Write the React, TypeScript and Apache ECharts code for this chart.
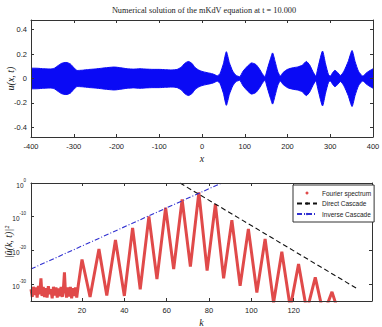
import React, { useEffect, useRef } from 'react';
import * as echarts from 'echarts';

// ---- Top panel: envelope of u(x,t) (the blue band spans -env..+env)
const xPos = [-400, -385, -370, -355, -345, -337, -328, -318, -308, -300, -292, -280, -265, -250, -235, -220, -205, -190, -175, -160, -145, -130, -115, -100, -85, -70, -58, -48, -40, -32, -24, -16, -8, 0, 12, 25, 36, 42, 50, 57, 64, 72, 80, 88, 96, 106, 116, 126, 134, 141, 147, 153, 160, 165, 171, 177, 183, 190, 200, 212, 224, 235, 244, 252, 259, 266, 272, 282, 289, 296, 300, 306, 311, 317, 324, 332, 342, 351, 358, 366, 376, 386, 395, 400];
const envelope = [0.085, 0.084, 0.08, 0.078, 0.085, 0.105, 0.125, 0.132, 0.12, 0.09, 0.066, 0.068, 0.074, 0.078, 0.084, 0.09, 0.094, 0.088, 0.08, 0.077, 0.08, 0.077, 0.075, 0.075, 0.072, 0.07, 0.075, 0.095, 0.125, 0.14, 0.125, 0.09, 0.07, 0.058, 0.048, 0.038, 0.022, 0.04, 0.12, 0.22, 0.13, 0.06, 0.025, 0.015, 0.06, 0.1, 0.128, 0.115, 0.08, 0.04, 0.015, 0.08, 0.16, 0.21, 0.14, 0.06, 0.02, 0.05, 0.075, 0.088, 0.095, 0.11, 0.14, 0.11, 0.06, 0.02, 0.1, 0.225, 0.12, 0.03, 0.02, 0.05, 0.068, 0.05, 0.025, 0.06, 0.14, 0.23, 0.14, 0.06, 0.02, 0.05, 0.07, 0.08];

// ---- Bottom panel: Fourier spectrum, log10 |u^(k,t)|^2
const specK = [-4.1, -3.5, -3, -2.4, -1.8, -1.2, -0.6, 0, 0.6, 1.1, 1.7, 2.3, 2.9, 3.5, 4.1, 4.7, 5.3, 5.9, 6.5, 7.1, 7.7, 8.3, 8.9, 9.5, 10.1, 10.7, 11.3, 11.7, 12.1, 12.7, 13.3, 13.9, 14.5, 15.1, 15.7, 16.3, 16.9, 17.5, 18.2, 20, 23.8, 28, 31.7, 35.8, 40, 43.9, 47.5, 51.6, 55.4, 59.5, 63.3, 67.3, 71.2, 75.2, 79.1, 83, 86.9, 90.8, 94.7, 98.6, 102.6, 106.5, 110.5, 114.4, 118.4, 122.3, 126.2, 130.2, 134.1, 138.1, 141];
const specLog = [-31.5, -33.8, -30.8, -33.2, -31, -34, -30.5, -33, -28.3, -33.5, -30.8, -33.8, -31.2, -34, -30.6, -33, -31.5, -34.2, -30.8, -33.4, -31, -34, -31.3, -33.6, -30.8, -33.8, -30.5, -26.5, -31.5, -34, -31, -33.7, -30.8, -34.2, -31.2, -33.5, -31, -34, -30.5, -22.7, -33.8, -19.6, -33.4, -16.9, -33.5, -13.3, -31.5, -9.9, -28.5, -7.3, -25.5, -4.9, -24.8, -2.8, -26, -6.3, -28.3, -11, -30.5, -13.6, -32.5, -16.6, -35.5, -20.4, -37, -24, -38, -28, -39, -32.3, -38];

const directK = [66.3, 150.4];
const directLog = [0, -31.5];
const inverseK = [-4.1, 86];
const inverseLog = [-25.5, 0];

const topXTicks = [-400, -300, -200, -100, 0, 100, 200, 300, 400];
const topYTicks = [-0.4, -0.2, 0, 0.2, 0.4];
const botXTicks = [20, 40, 60, 80, 100, 120];
const botYTicks = [-30, -20, -10, 0];

const TITLE = 'Numerical solution of the mKdV equation at t = 10.000';

const axisColor = '#333';
const sans = 'Liberation Sans, Arial, sans-serif';
const serif = 'Liberation Serif, Times New Roman, serif';
const labelFont = { fontFamily: sans, fontSize: 7.5, color: '#222' };
const nameFont = { fontFamily: serif, fontStyle: 'italic' as const, fontSize: 10, color: '#222' };

function frameAxis(extra: any) {
  return {
    type: 'value',
    z: 5,
    nameMoveOverlap: false,
    axisLine: { show: true, onZero: false, lineStyle: { color: axisColor, width: 1 } },
    splitLine: { show: false },
    ...extra,
  };
}

export default function App() {
  const ref = useRef<HTMLDivElement>(null);
  useEffect(() => {
    if (!ref.current) return;
    const chart = echarts.init(ref.current, null, { renderer: 'svg' });
    const upper = xPos.map((x, i) => [x, envelope[i]]);
    const lower = xPos.map((x, i) => [x, -envelope[i]]);
    const spec = specK.map((k, i) => [k, specLog[i]]);
    const direct = directK.map((k, i) => [k, directLog[i]]);
    const inverse = inverseK.map((k, i) => [k, inverseLog[i]]);

    const tickIn = (vals: number[]) => ({ show: true, inside: true, length: 3, customValues: vals, lineStyle: { color: axisColor } });

    chart.setOption({
      animation: false,
      backgroundColor: '#fff',
      graphic: [
        {
          type: 'text',
          x: 204,
          y: 10,
          style: {
            text: TITLE,
            textAlign: 'center',
            textVerticalAlign: 'middle',
            fontFamily: serif,
            fontSize: 8.3,
            fill: '#222',
          },
        },
      ],
      grid: [
        { left: 31, top: 20, width: 342, height: 117, outerBoundsMode: 'none', containLabel: false },
        { left: 31, top: 183, width: 341, height: 118, outerBoundsMode: 'none', containLabel: false },
      ],
      legend: {
        orient: 'vertical',
        left: 293,
        top: 185,
        padding: [4, 3, 4, 3],
        itemGap: 2.5,
        itemWidth: 20,
        itemHeight: 3,
        borderColor: '#333',
        borderWidth: 1,
        backgroundColor: '#fff',
        z: 10,
        textStyle: { fontFamily: sans, fontSize: 6.5, lineHeight: 8, color: '#222' },
        data: [
          { name: 'Fourier spectrum', icon: 'circle' },
          { name: 'Direct Cascade' },
          { name: 'Inverse Cascade' },
        ],
      },
      xAxis: [
        frameAxis({
          gridIndex: 0, position: 'bottom', min: -400, max: 400,
          axisTick: tickIn(topXTicks),
          axisLabel: { ...labelFont, margin: 5, customValues: topXTicks, formatter: (v: number) => String(v) },
          name: 'x', nameLocation: 'middle', nameGap: 16, nameTextStyle: nameFont,
        }),
        frameAxis({
          gridIndex: 0, position: 'top', min: -400, max: 400,
          axisTick: tickIn(topXTicks), axisLabel: { show: false },
        }),
        frameAxis({
          gridIndex: 1, position: 'bottom', min: -4.1, max: 157,
          axisTick: tickIn(botXTicks),
          axisLabel: { ...labelFont, margin: 5, customValues: botXTicks, formatter: (v: number) => String(v) },
          name: 'k', nameLocation: 'middle', nameGap: 16, nameTextStyle: nameFont,
        }),
        frameAxis({
          gridIndex: 1, position: 'top', min: -4.1, max: 157,
          axisTick: tickIn(botXTicks), axisLabel: { show: false },
        }),
      ],
      yAxis: [
        frameAxis({
          gridIndex: 0, position: 'left', min: -0.48, max: 0.48,
          axisTick: tickIn(topYTicks),
          axisLabel: { ...labelFont, margin: 4, customValues: topYTicks, formatter: (v: number) => (Math.abs(v) < 1e-9 ? '0' : v.toFixed(1)) },
          name: 'u(x, t)', nameLocation: 'middle', nameGap: 16, nameRotate: 90, nameTextStyle: nameFont,
        }),
        frameAxis({
          gridIndex: 0, position: 'right', min: -0.48, max: 0.48,
          axisTick: tickIn(topYTicks), axisLabel: { show: false },
        }),
        frameAxis({
          gridIndex: 1, position: 'left', min: -35, max: 0,
          axisTick: tickIn(botYTicks),
          axisLabel: {
            ...labelFont,
            margin: 5,
            customValues: botYTicks,
            formatter: (v: number) => `{b|10}{s|${Math.round(v)}}`,
            rich: {
              b: { fontFamily: sans, fontSize: 6.5, color: '#222', lineHeight: 11, verticalAlign: 'bottom' },
              s: { fontFamily: sans, fontSize: 4.5, color: '#222', verticalAlign: 'top' },
            },
          },
          name: '|û(k, t)|²', nameLocation: 'middle', nameGap: 18, nameRotate: 90, nameTextStyle: nameFont,
        }),
        frameAxis({
          gridIndex: 1, position: 'right', min: -35, max: 0,
          axisTick: tickIn(botYTicks), axisLabel: { show: false },
        }),
      ],
      series: [
        {
          type: 'line', xAxisIndex: 0, yAxisIndex: 0, data: upper, symbol: 'none', smooth: 0.2,
          lineStyle: { color: '#0a0af5', width: 1 }, areaStyle: { color: '#0a0af5', opacity: 1, origin: 'start' }, silent: true,
        },
        {
          type: 'line', xAxisIndex: 0, yAxisIndex: 0, data: lower, symbol: 'none', smooth: 0.2,
          lineStyle: { color: '#0a0af5', width: 1 }, areaStyle: { color: '#ffffff', opacity: 1, origin: 'start' }, silent: true,
        },
        {
          name: 'Fourier spectrum', type: 'line', xAxisIndex: 2, yAxisIndex: 2, data: spec, symbol: 'none',
          itemStyle: { color: '#e04a4a' },
          lineStyle: { color: '#e04a4a', width: 3 },
        },
        {
          name: 'Direct Cascade', type: 'line', xAxisIndex: 2, yAxisIndex: 2, data: direct, symbol: 'none',
          itemStyle: { color: '#111' },
          lineStyle: { color: '#111', width: 1.1, type: [5, 3] },
        },
        {
          name: 'Inverse Cascade', type: 'line', xAxisIndex: 2, yAxisIndex: 2, data: inverse, symbol: 'none',
          itemStyle: { color: '#3030d0' },
          lineStyle: { color: '#3030d0', width: 1.1, type: [5, 2, 1, 2] },
        },
      ],
    });
    return () => chart.dispose();
  }, []);
  return <div ref={ref} style={{ width: 382, height: 327, position: 'absolute', left: 0, top: 0 }} />;
}
